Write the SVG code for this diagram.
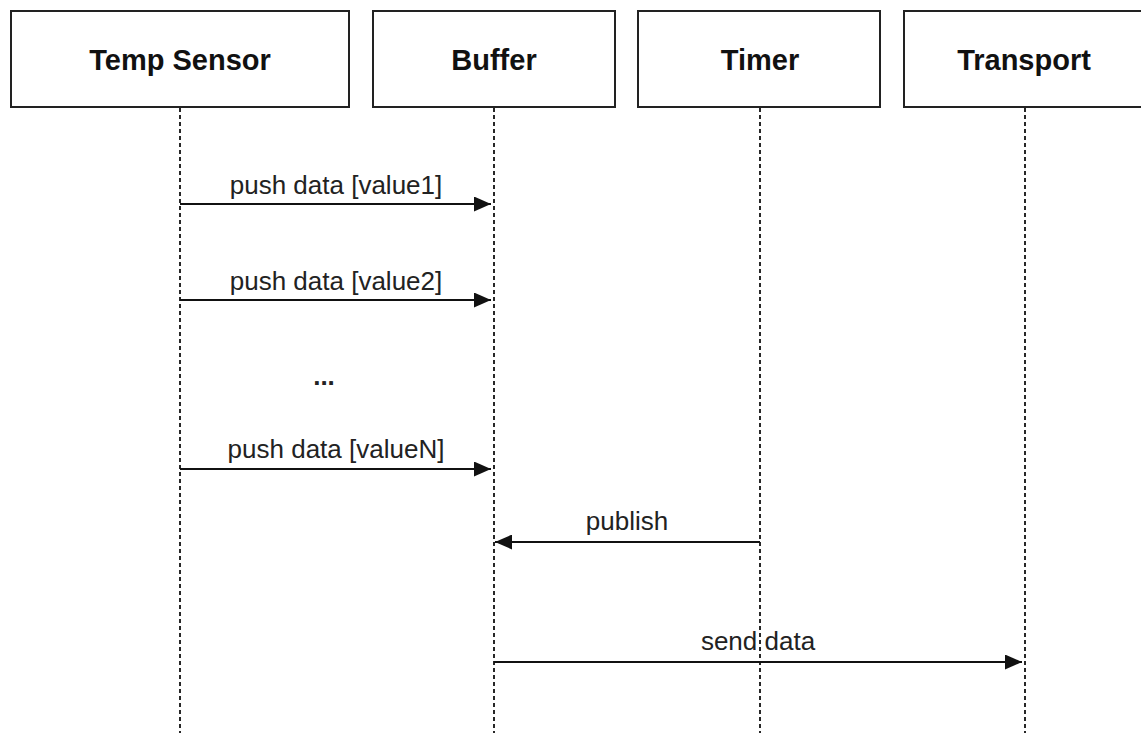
<svg xmlns="http://www.w3.org/2000/svg" width="1141" height="733" viewBox="0 0 1141 733">
<defs>
<marker id="ah" viewBox="0 0 17 15" refX="17" refY="7.5" markerWidth="17" markerHeight="15" markerUnits="userSpaceOnUse" orient="auto">
<path d="M0,0 L17,7.5 L0,15 Z" fill="#111"/>
</marker>
<style>
.box{fill:#fff;stroke:#222;stroke-width:2}
.title{font-family:"Liberation Sans",Arial,sans-serif;font-weight:bold;font-size:29px;fill:#111;text-anchor:middle}
.life{stroke:#111;stroke-width:1.8;stroke-dasharray:4 3;fill:none}
.msg{stroke:#111;stroke-width:2;fill:none;marker-end:url(#ah)}
.lbl{font-family:"Liberation Sans",Arial,sans-serif;font-size:26px;fill:#222;text-anchor:middle}
</style>
</defs>
<rect width="1141" height="733" fill="#fff"/>
<g id="lifelines">
<line class="life" x1="180" y1="108" x2="180" y2="733"/>
<line class="life" x1="494" y1="108" x2="494" y2="733"/>
<line class="life" x1="760" y1="108" x2="760" y2="733"/>
<line class="life" x1="1025" y1="108" x2="1025" y2="733"/>
</g>
<g id="temp-sensor">
<rect class="box" x="11" y="11" width="338" height="96"/>
<text class="title" x="180" y="70">Temp Sensor</text>
</g>
<g id="buffer">
<rect class="box" x="373" y="11" width="242" height="96"/>
<text class="title" x="494" y="70">Buffer</text>
</g>
<g id="timer">
<rect class="box" x="638" y="11" width="242" height="96"/>
<text class="title" x="760" y="70">Timer</text>
</g>
<g id="transport">
<rect class="box" x="904" y="11" width="250" height="96"/>
<text class="title" x="1024" y="70">Transport</text>
</g>
<g id="connectors">
<line class="msg" x1="180" y1="204" x2="491" y2="204"/>
<line class="msg" x1="180" y1="300" x2="491" y2="300"/>
<line class="msg" x1="180" y1="469" x2="491" y2="469"/>
<line class="msg" x1="760" y1="542" x2="495" y2="542"/>
<line class="msg" x1="494" y1="662" x2="1022" y2="662"/>
</g>
<g id="labels">
<text class="lbl" x="336" y="194">push data [value1]</text>
<text class="lbl" x="336" y="290">push data [value2]</text>
<text class="lbl" x="324" y="385" style="font-weight:bold">...</text>
<text class="lbl" x="336" y="458">push data [valueN]</text>
<text class="lbl" x="627" y="530">publish</text>
<text class="lbl" x="758" y="650">send data</text>
</g>
</svg>
